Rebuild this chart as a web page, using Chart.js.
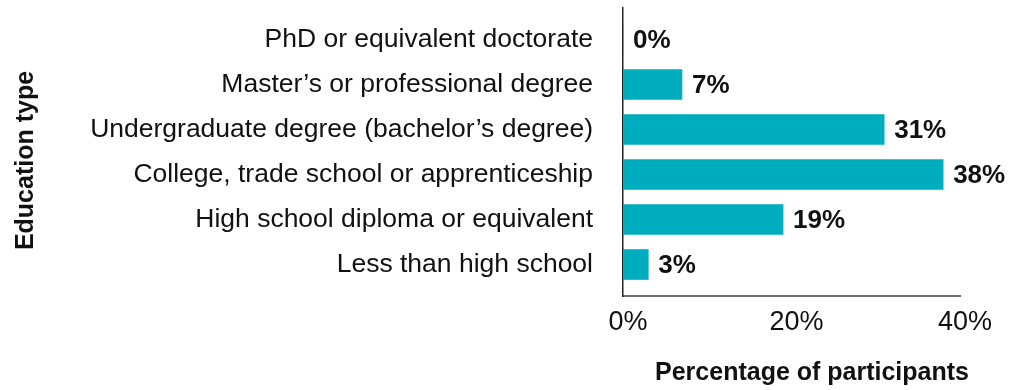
<!DOCTYPE html>
<html>
<head>
<meta charset="utf-8">
<script src="https://cdn.jsdelivr.net/npm/chart.js@4.4.1/dist/chart.umd.min.js"></script>
<style>
  html, body { margin: 0; padding: 0; background: #fff; }
  #wrap { width: 1020px; height: 390px; }
</style>
</head>
<body>
<div id="wrap"><canvas id="c" width="1020" height="390"></canvas></div>
<script>
// Education levels, top to bottom
const categories = [
  'PhD or equivalent doctorate',
  'Master\u2019s or professional degree',
  'Undergraduate degree (bachelor\u2019s degree)',
  'College, trade school or apprenticeship',
  'High school diploma or equivalent',
  'Less than high school'
];
// Share of participants (%)
const shares = [0, 7, 31, 38, 19, 3];
// Percentage axis ticks
const xTicks = [0, 20, 40];

const xTitle = 'Percentage of participants';
const yTitle = 'Education type';

const FONT = '"Liberation Sans", Arial, Helvetica, sans-serif';
const BAR = '#00ADBF';
const INK = '#111111';

// Value labels at the end of each bar
const valueLabels = {
  id: 'valueLabels',
  afterDatasetsDraw(chart) {
    const ctx = chart.ctx;
    const meta = chart.getDatasetMeta(0);
    ctx.save();
    ctx.font = 'bold 26px ' + FONT;
    ctx.fillStyle = INK;
    ctx.textAlign = 'left';
    ctx.textBaseline = 'middle';
    meta.data.forEach((bar, i) => {
      ctx.fillText(shares[i] + '%', bar.x + 10, bar.y + 1);
    });
    ctx.restore();
  }
};

// Axis titles
const axisTitles = {
  id: 'axisTitles',
  afterDraw(chart) {
    const ctx = chart.ctx;
    ctx.save();
    ctx.font = 'bold 25px ' + FONT;
    ctx.fillStyle = INK;
    ctx.textAlign = 'center';
    ctx.textBaseline = 'alphabetic';
    ctx.fillText(xTitle, 812, 380);
    ctx.translate(32.5, 160.5);
    ctx.rotate(-Math.PI / 2);
    ctx.fillText(yTitle, 0, 0);
    ctx.restore();
  }
};

new Chart(document.getElementById('c'), {
  type: 'bar',
  data: {
    datasets: [{
      data: shares.map((v, i) => ({ x: v, y: i })),
      backgroundColor: BAR,
      borderWidth: 0,
      barThickness: 30
    }]
  },
  options: {
    indexAxis: 'y',
    responsive: false,
    animation: false,
    layout: { padding: { top: 8, right: 60, left: 0, bottom: 0 } },
    plugins: { legend: { display: false }, tooltip: { enabled: false } },
    scales: {
      x: {
        type: 'linear',
        min: 0,
        max: 40,
        afterBuildTicks: s => { s.ticks = xTicks.map(v => ({ value: v })); },
        afterFit: s => { s.height = 94; s.paddingLeft = 0; s.paddingRight = 0; },
        grid: { display: false, drawTicks: false },
        border: { display: true, color: '#6e6e6e', width: 2 },
        ticks: {
          padding: 10,
          labelOffset: 5,
          color: INK,
          font: { family: FONT, size: 27 },
          callback: v => v + '%'
        }
      },
      y: {
        type: 'linear',
        reverse: true,
        offset: false,
        min: -0.7,
        max: 5.7,
        afterBuildTicks: s => { s.ticks = categories.map((_, i) => ({ value: i })); },
        afterFit: s => { s.width = 623; s.paddingTop = 0; s.paddingBottom = 0; },
        grid: { display: false, drawTicks: false, offset: false },
        border: { display: true, color: '#222222', width: 1.5 },
        ticks: {
          padding: 30,
          color: INK,
          font: { family: FONT, size: 26.5 },
          callback: v => categories[v] || ''
        }
      }
    }
  },
  plugins: [valueLabels, axisTitles]
});
</script>
</body>
</html>
